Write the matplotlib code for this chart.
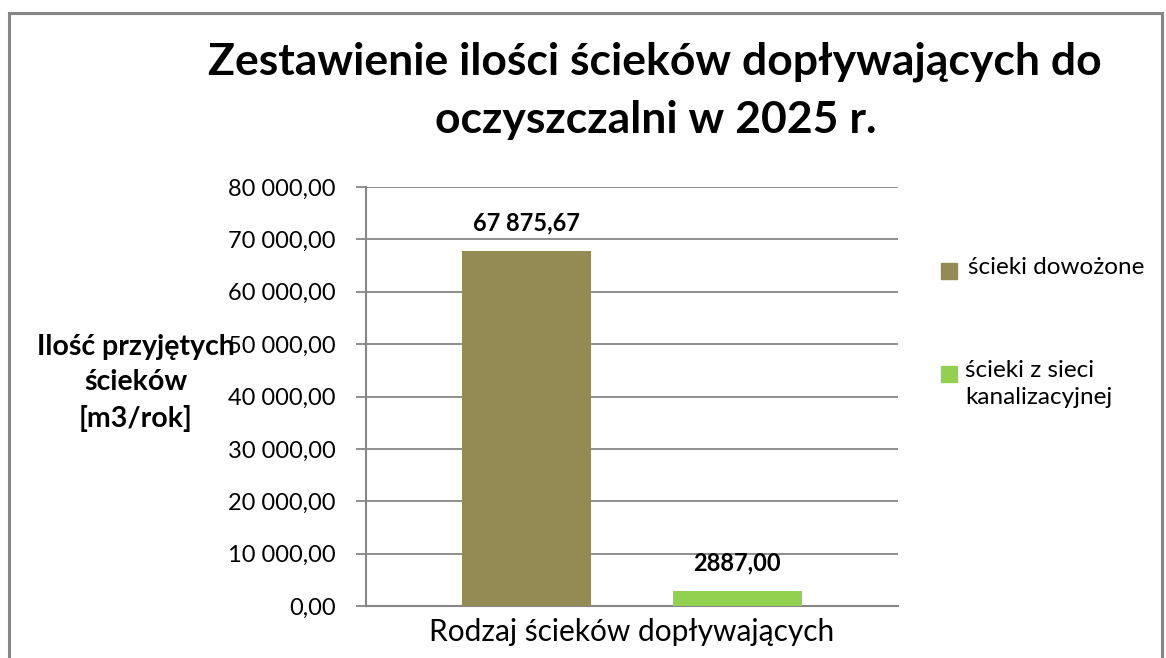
import matplotlib
matplotlib.use("Agg")
import matplotlib.pyplot as plt
from matplotlib.ticker import FuncFormatter, MultipleLocator
from matplotlib.patches import Rectangle

plt.rcParams['font.family'] = ['Lato', 'DejaVu Sans']

title = "Zestawienie ilości ścieków dopływających do\noczyszczalni w 2025 r."
series_names = ["ścieki dowożone", "ścieki z sieci\nkanalizacyjnej"]
values = [67875.67, 2887.00]
colors = ["#948A54", "#92D050"]
xlabel = "Rodzaj ścieków dopływających"
ylabel = "Ilość przyjętych\nścieków\n[m3/rok]"
ymax = 80000
ystep = 10000


def pl_fmt(v, sep_min=10000):
    s = f"{v:,.2f}"
    if abs(v) < sep_min:
        s = f"{v:.2f}"
    return s.replace(",", " ").replace(".", ",")


fig = plt.figure(figsize=(11.66, 6.58), dpi=100)
ax = fig.add_axes([366/1166, 1-606/658, (898-366)/1166, (606-187)/658])

width = 0.2425
offsets = [-0.198, 0.198]
for name, v, c, off in zip(series_names, values, colors, offsets):
    ax.bar(off, v, width=width, color=c, label=name, zorder=3)
    ax.text(off, v + 5300, pl_fmt(v), ha='center', va='center',
            fontsize=17, fontweight='bold', zorder=4)

ax.set_xlim(-0.5, 0.5)
ax.set_ylim(0, ymax)
ax.yaxis.set_major_locator(MultipleLocator(ystep))
ax.yaxis.set_major_formatter(FuncFormatter(lambda v, p: pl_fmt(v, 0)))
ax.grid(axis='y', color='#868686', linewidth=1.3, zorder=0)
ax.set_xticks([])
for s in ['top', 'right']:
    ax.spines[s].set_visible(False)
for s in ['left', 'bottom']:
    ax.spines[s].set_color('#868686')
    ax.spines[s].set_linewidth(1.5)
ax.tick_params(axis='y', length=7, width=1.3, color='#868686', labelsize=17, pad=15)

fig.text(0.562, 1-62/658, title.split("\n")[0], ha='center', va='center',
         fontsize=32, fontweight='bold')
fig.text(0.562, 1-120/658, title.split("\n")[1], ha='center', va='center',
         fontsize=32, fontweight='bold')

fig.text(136/1166, 1-383/658, ylabel, ha='center', va='center', fontsize=20.5,
         fontweight='bold', linespacing=1.45)
fig.text(632/1166, 1-632/658, xlabel, ha='center', va='center', fontsize=21.5)

# legend (manual layout: square aligned with first text line)
leg_y = [271, 374]
text_x = [968, 965]
for name, c, y, tx in zip(series_names, colors, leg_y, text_x):
    fig.add_artist(Rectangle((941/1166, 1-(y+8)/658), 16/1166, 16/658,
                             transform=fig.transFigure, color=c))
    fig.text(tx/1166, 1-(y-14)/658, name, ha='left', va='top', fontsize=17.5,
             linespacing=1.38)

fig.add_artist(Rectangle((9/1166, -0.02), (1162-9)/1166, 1-13/658+0.02,
                         transform=fig.transFigure, fill=False,
                         edgecolor='#868686', linewidth=2.2))

fig.savefig("out.png", dpi=100)
